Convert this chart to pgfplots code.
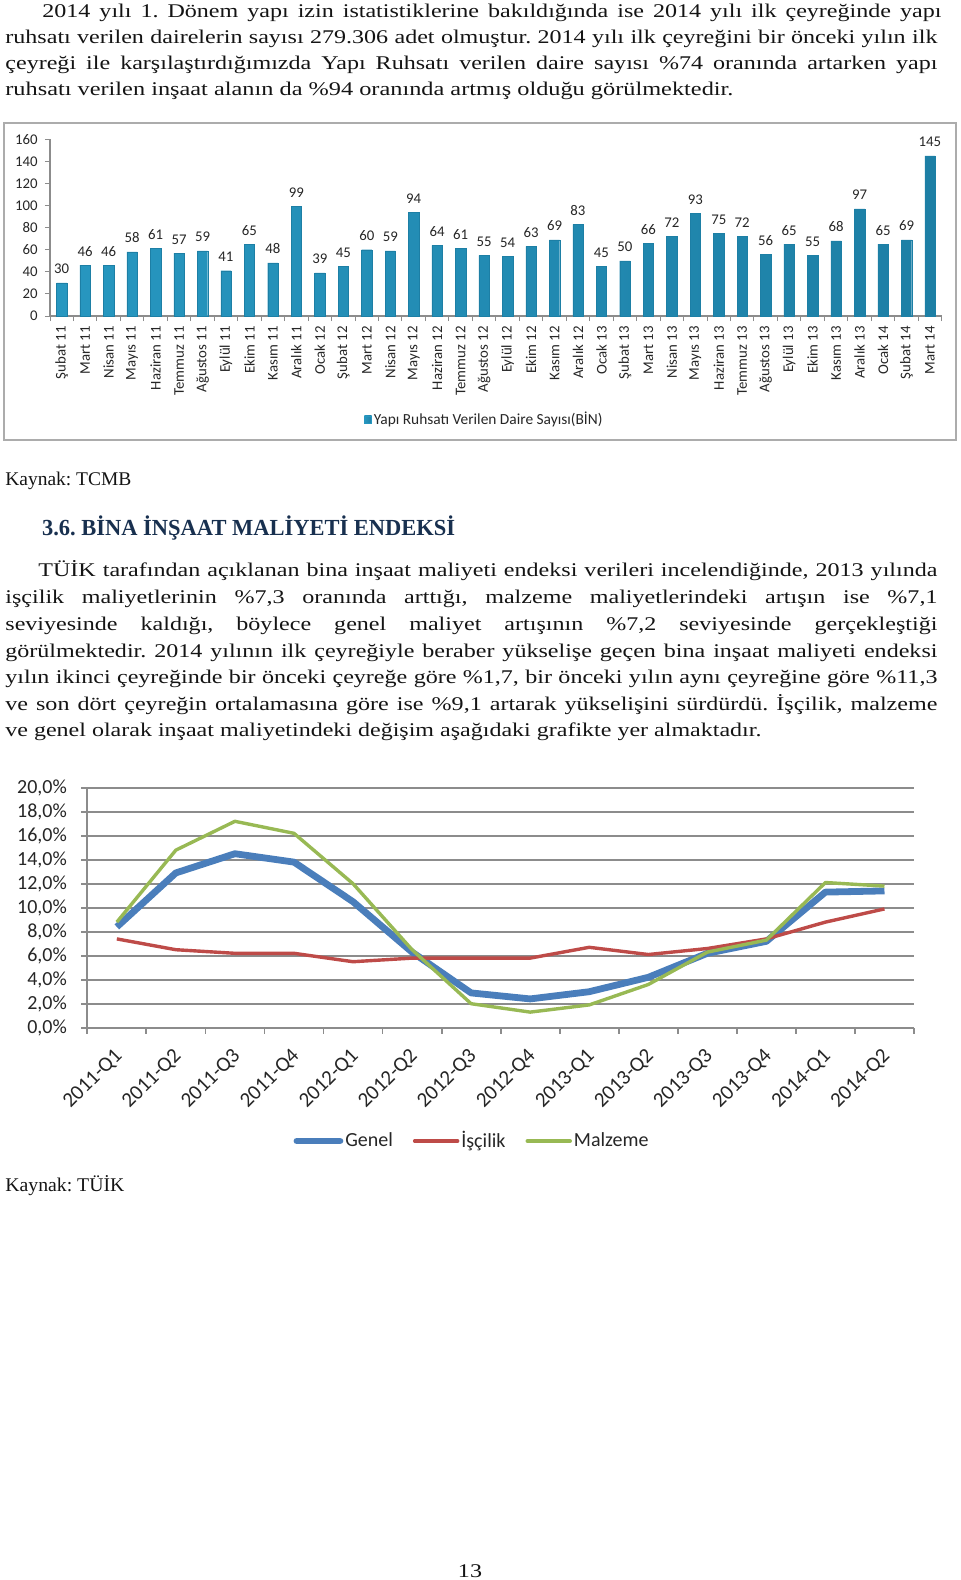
\documentclass[border=0pt]{standalone}
\usepackage{pgfplots}
\pgfplotsset{compat=1.18}
\usepackage{graphicx}
\usepackage{fontspec}
\setmainfont{Liberation Serif}[FakeStretch=1.24]
\newfontfamily\chartfont{Carlito}
\definecolor{headblue}{HTML}{18304F}
\definecolor{barL}{HTML}{2797C0}
\definecolor{barM}{HTML}{58C3E4}
\definecolor{barR}{HTML}{1D7FA5}
\definecolor{cblue}{HTML}{4A7EBB}
\definecolor{cred}{HTML}{BE4B48}
\definecolor{cgreen}{HTML}{98B954}
\definecolor{gridg}{HTML}{8C8C8C}
\newsavebox\lbox
\newcommand\jline[2]{\sbox\lbox{#2}\ifdim\wd\lbox>#1\relax\resizebox{#1}{\height}{\usebox\lbox}\else\makebox[#1][s]{#2}\fi}
\newcommand\lline[2]{\resizebox{#1}{\height}{#2}}
\frenchspacing
\begin{document}
\begin{tikzpicture}
\path[use as bounding box] (0pt,0pt) rectangle (480pt,-790pt);
\begin{scope}[x=0.5pt,y=-0.5pt,every node/.style={inner sep=0pt,anchor=base west,text=black!92}]
\fontsize{9.7}{13}\selectfont\frenchspacing
\node at (42,17) {\jline{449.5pt}{2014 yılı 1. Dönem yapı izin istatistiklerine bakıldığında ise 2014 yılı ilk çeyreğinde yapı}};
\node at (5,43) {\jline{466pt}{ruhsatı verilen dairelerin sayısı 279.306 adet olmuştur. 2014 yılı ilk çeyreğini  bir önceki yılın ilk}};
\node at (5,69) {\jline{466pt}{çeyreği ile karşılaştırdığımızda Yapı Ruhsatı verilen daire sayısı \%74 oranında artarken yapı}};
\node at (5,95) {\lline{364pt}{ruhsatı verilen inşaat alanın da \%94 oranında artmış olduğu görülmektedir.}};
\draw[gray!65, line width=1pt] (4,123) rectangle (956,440);
\node at (5,485) {\lline{63pt}{Kaynak: TCMB}};
\node[text=headblue] at (41.7,535.7) {\lline{206.5pt}{\bfseries\fontsize{11.5}{13}\selectfont 3.6. BİNA İNŞAAT MALİYETİ ENDEKSİ}};
\node at (38,576) {\jline{449.5pt}{TÜİK tarafından açıklanan bina inşaat maliyeti endeksi verileri incelendiğinde, 2013 yılında}};
\node at (5,603) {\jline{466pt}{işçilik maliyetlerinin \%7,3 oranında arttığı, malzeme maliyetlerindeki artışın ise \%7,1}};
\node at (5,630) {\jline{466pt}{seviyesinde kaldığı, böylece genel maliyet artışının \%7,2 seviyesinde gerçekleştiği}};
\node at (5,657) {\jline{466pt}{görülmektedir. 2014 yılının ilk çeyreğiyle beraber yükselişe geçen bina inşaat maliyeti endeksi}};
\node at (5,683) {\jline{466pt}{yılın ikinci çeyreğinde bir önceki çeyreğe göre \%1,7, bir önceki yılın aynı çeyreğine göre \%11,3}};
\node at (5,710) {\jline{466pt}{ve son dört çeyreğin ortalamasına göre ise \%9,1 artarak yükselişini sürdürdü. İşçilik, malzeme}};
\node at (5,736) {\lline{378pt}{ve genel olarak inşaat maliyetindeki değişim aşağıdaki grafikte yer almaktadır.}};
\node at (5,1191) {\lline{59.5pt}{Kaynak: TÜİK}};
\node[anchor=base] at (470,1577) {13};
\end{scope}

% ---------- bar chart ----------
\begin{axis}[
  at={(25pt,-158pt)}, anchor=south west, scale only axis,
  width=445.85pt, height=88.35pt,
  xmin=-0.5, xmax=37.5, ymin=0, ymax=160,
  axis lines*=left, axis line style={-, draw=gridg, line width=0.6pt},
  ytick={0,20,...,160},
  xtick={0,...,37},
  xticklabels={Şubat 11,Mart 11,Nisan 11,Mayıs 11,Haziran 11,Temmuz 11,Ağustos 11,Eylül 11,Ekim 11,Kasım 11,Aralık 11,Ocak 12,Şubat 12,Mart 12,Nisan 12,Mayıs 12,Haziran 12,Temmuz 12,Ağustos 12,Eylül 12,Ekim 12,Kasım 12,Aralık 12,Ocak 13,Şubat 13,Mart 13,Nisan 13,Mayıs 13,Haziran 13,Temmuz 13,Ağustos 13,Eylül 13,Ekim 13,Kasım 13,Aralık 13,Ocak 14,Şubat 14,Mart 14},
  minor xtick={-0.5,0.5,...,37.5},
  tick align=outside, major tick length=2.5pt, minor tick length=2.5pt,
  major x tick style={draw=none},
  minor x tick style={draw=gridg, line width=0.5pt},
  ytick style={draw=gridg, line width=0.5pt},
  /pgf/number format/assume math mode=true,
  tick label style={font=\chartfont\fontsize{7.4}{8}\selectfont, text=black!85},
  xticklabel style={yshift=-2.5pt, anchor=east, inner sep=0pt, rotate=90},
  yticklabel style={anchor=east, inner sep=0pt, xshift=-3.5pt},
  clip=false,
  legend style={at={(0.352,-0.585)}, anchor=west, draw=none, fill=none,
    font=\chartfont\fontsize{7.7}{8}\selectfont, inner sep=0pt,
    nodes={inner sep=1pt, text=black!85}},
  legend image code/.code={\fill[barL] (0pt,-1.8pt) rectangle (3.6pt,1.8pt);},
]
\addplot[ybar, bar width=5.2pt, left color=barL, middle color=barM, right color=barR, draw=barR, line width=0.2pt,
  nodes near coords, nodes near coords style={font=\chartfont\fontsize{7.4}{8}\selectfont, text=black!85, anchor=base, yshift=4.5pt, inner sep=0pt}]
 coordinates {
 (0,30) (1,46) (2,46) (3,58) (4,61) (5,57) (6,59) (7,41) (8,65) (9,48) (10,99)
 (11,39) (12,45) (13,60) (14,59) (15,94) (16,64) (17,61) (18,55) (19,54) (20,63) (21,69) (22,83)
 (23,45) (24,50) (25,66) (26,72) (27,93) (28,75) (29,72) (30,56) (31,65) (32,55) (33,68) (34,97)
 (35,65) (36,69) (37,145)};
\addlegendentry{Yapı Ruhsatı Verilen Daire Sayısı(BİN)}
\end{axis}

% ---------- line chart ----------
\begin{axis}[
  at={(43.65pt,-513.85pt)}, anchor=south west, scale only axis,
  width=413.35pt, height=120pt,
  xmin=-0.5, xmax=13.5, ymin=0, ymax=20,
  axis lines*=left, axis line style={-, draw=gridg, line width=0.9pt},
  ymajorgrids, grid style={draw=gridg, line width=0.9pt},
  ytick={0,2,...,20},
  yticklabels={{0,0\%},{2,0\%},{4,0\%},{6,0\%},{8,0\%},{10,0\%},{12,0\%},{14,0\%},{16,0\%},{18,0\%},{20,0\%}},
  xtick={0,...,13},
  xticklabels={2011-Q1,2011-Q2,2011-Q3,2011-Q4,2012-Q1,2012-Q2,2012-Q3,2012-Q4,2013-Q1,2013-Q2,2013-Q3,2013-Q4,2014-Q1,2014-Q2},
  minor xtick={-0.5,0.5,...,13.5},
  tick align=outside, major tick length=3pt, minor tick length=3pt,
  major x tick style={draw=none},
  minor x tick style={draw=gridg, line width=0.9pt},
  ytick style={draw=gridg, line width=0.9pt},
  tick label style={font=\chartfont\fontsize{10}{11}\selectfont, text=black!85},
  xticklabel style={xshift=-1.8pt, yshift=-6.3pt, anchor=north east, inner sep=0pt, rotate=45, font=\chartfont\fontsize{10.5}{11}\selectfont},
  yticklabel style={anchor=east, inner sep=0pt, xshift=-7pt},
  clip=false,
  legend columns=3,
  legend style={at={(0.4654,-0.472)}, anchor=center, draw=none, fill=none,
    font=\chartfont\fontsize{10}{11}\selectfont, inner sep=0pt,
    nodes={inner sep=1pt, text=black!85},
    /tikz/every even column/.append style={column sep=9pt}},
  legend image code/.code={\draw[#1, line cap=round] (0pt,0pt) -- (21.5pt,0pt);},
]
\addplot[cblue, line width=3.4pt, line join=round] coordinates {
 (0,8.4) (1,12.9) (2,14.5) (3,13.8) (4,10.5) (5,6.3) (6,2.9) (7,2.4) (8,3.0) (9,4.2) (10,6.2) (11,7.2) (12,11.3) (13,11.4)};
\addlegendentry{Genel}
\addplot[cred, line width=1.7pt, line join=round] coordinates {
 (0,7.4) (1,6.5) (2,6.2) (3,6.2) (4,5.5) (5,5.8) (6,5.8) (7,5.8) (8,6.7) (9,6.1) (10,6.6) (11,7.4) (12,8.8) (13,9.9)};
\addlegendentry{İşçilik}
\addplot[cgreen, line width=1.7pt, line join=round] coordinates {
 (0,8.8) (1,14.8) (2,17.2) (3,16.2) (4,12.0) (5,6.5) (6,2.0) (7,1.3) (8,1.9) (9,3.6) (10,6.3) (11,7.3) (12,12.1) (13,11.8)};
\addlegendentry{Malzeme}
\end{axis}
\end{tikzpicture}
\end{document}
